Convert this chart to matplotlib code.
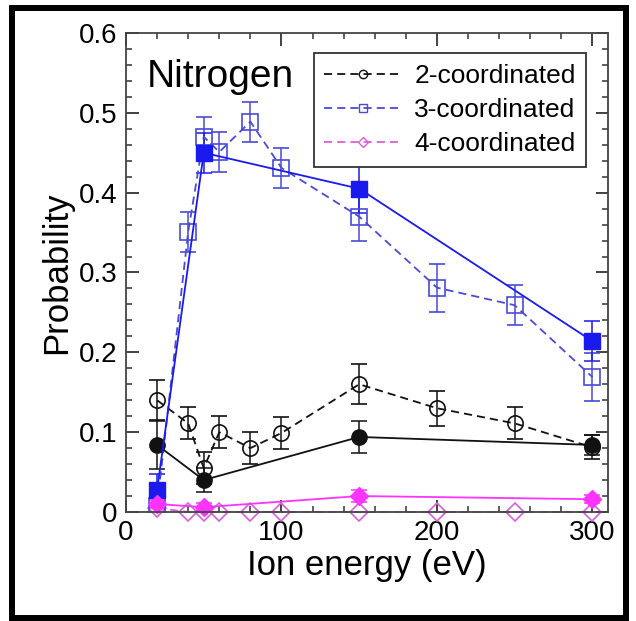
import numpy as np
import matplotlib
matplotlib.use("Agg")
import matplotlib.pyplot as plt
from matplotlib.patches import Rectangle
from matplotlib.lines import Line2D
from matplotlib.ticker import MultipleLocator, FuncFormatter

plt.rcParams['font.family'] = ['Liberation Sans', 'DejaVu Sans']

# open symbols, dashed lines
energy = [20, 40, 50, 60, 80, 100, 150, 200, 250, 300]
p2 = [0.140, 0.111, 0.055, 0.100, 0.080, 0.099, 0.160, 0.130, 0.111, 0.081]
p2_err = [0.025, 0.02, 0.02, 0.02, 0.02, 0.02, 0.025, 0.022, 0.02, 0.015]
p3 = [0.008, 0.351, 0.470, 0.451, 0.489, 0.431, 0.370, 0.281, 0.259, 0.169]
p3_err = [0.01, 0.025, 0.025, 0.025, 0.025, 0.025, 0.03, 0.03, 0.025, 0.03]
p4 = [0.005, 0.0, 0.0, 0.0, 0.0, 0.0, 0.0, 0.0, 0.0, 0.0]

# filled symbols, solid lines
energy_f = [20, 50, 150, 300]
f2 = [0.084, 0.040, 0.094, 0.084]
f2_err = [0.03, 0.015, 0.02, 0.012]
f3 = [0.028, 0.450, 0.405, 0.214]
f3_err = [0.02, 0.025, 0.03, 0.025]
f4 = [0.010, 0.006, 0.020, 0.016]
f4_err = [0.005, 0.005, 0.008, 0.005]

labels = ['2-coordinated', '3-coordinated', '4-coordinated']

black = '#111111'
blue_open = '#4a4ad8'
blue_fill = '#1a1aee'
mag_open = '#d860d8'
mag_fill = '#ff33ff'

dash = (0, (4.5, 2.8))

fig = plt.figure(figsize=(6.36, 6.21), dpi=100)
ax = fig.add_axes([126/636, 1 - 512/621, 482/636, 479/621])

ms = 11
cap = 6
ax.errorbar(energy, p2, yerr=p2_err, color=black, ls=dash, lw=1.3, marker='o',
            mfc='none', mec=black, ms=ms, mew=1.2, capsize=cap, elinewidth=1.1,
            capthick=1.1)
ax.errorbar(energy, p3, yerr=p3_err, color=blue_open, ls=dash, lw=1.3, marker='s',
            mfc='none', mec=blue_open, ms=ms, mew=1.2, capsize=cap, elinewidth=1.1,
            capthick=1.1)
ax.plot(energy, p4, color=mag_open, ls=dash, lw=1.3, marker='D', mfc='none',
        mec=mag_open, ms=9, mew=1.2, clip_on=False)

ax.errorbar(energy_f, f2, yerr=f2_err, color=black, ls='-', lw=1.3, marker='o',
            ms=ms, capsize=cap, elinewidth=1.1, capthick=1.1)
ax.errorbar(energy_f, f3, yerr=f3_err, color=blue_fill, ls='-', lw=1.3, marker='s',
            ms=ms, capsize=cap, elinewidth=1.1, capthick=1.1)
f4_art = ax.errorbar(energy_f, f4, yerr=f4_err, color=mag_fill, ls='-', lw=1.3,
                     marker='D', ms=9, capsize=cap, elinewidth=1.1, capthick=1.1)
f4_art.lines[0].set_clip_on(False)

ax.set_xlim(0, 310)
ax.set_ylim(0, 0.6)
ax.xaxis.set_major_locator(MultipleLocator(100))
ax.xaxis.set_minor_locator(MultipleLocator(20))
ax.yaxis.set_major_locator(MultipleLocator(0.1))
ax.yaxis.set_minor_locator(MultipleLocator(0.02))
ax.yaxis.set_major_formatter(FuncFormatter(lambda v, p: '0' if abs(v) < 1e-9 else f'{v:.1f}'))

ax.tick_params(which='both', direction='in', top=True, right=True,
               color='#333333', labelsize=20, pad=6)
ax.tick_params(which='major', length=9, width=1.3)
ax.tick_params(which='minor', length=4.5, width=1.1)
for s in ax.spines.values():
    s.set_color('#444444')
    s.set_linewidth(1.3)

ax.set_xlabel('Ion energy (eV)', fontsize=25, labelpad=2)
ax.set_ylabel('Probability', fontsize=25, labelpad=4)

ax.text(0.044, 0.887, 'Nitrogen', transform=ax.transAxes, fontsize=28,
        ha='left', va='baseline')

handles = [
    Line2D([], [], color=black, ls=dash, lw=1.3, marker='o', mfc='none', mec=black, ms=6),
    Line2D([], [], color=blue_open, ls=dash, lw=1.3, marker='s', mfc='none', mec=blue_open, ms=6),
    Line2D([], [], color=mag_open, ls=dash, lw=1.3, marker='D', mfc='none', mec=mag_open, ms=5),
]
leg = ax.legend(handles, labels, loc='upper right', bbox_to_anchor=(0.982, 0.985),
                fontsize=19, handlelength=2.9, handletextpad=0.5,
                borderpad=0.4, labelspacing=0.38, fancybox=False, framealpha=1)
leg.get_frame().set_edgecolor('#333333')
leg.get_frame().set_linewidth(1.3)

# outer black frame around the figure
fig.patches.append(Rectangle((12/636, 1 - 618/621), 614/636, 610.5/621,
                             transform=fig.transFigure, fill=False,
                             edgecolor='black', linewidth=4.3))

fig.savefig('out.png', dpi=100)
